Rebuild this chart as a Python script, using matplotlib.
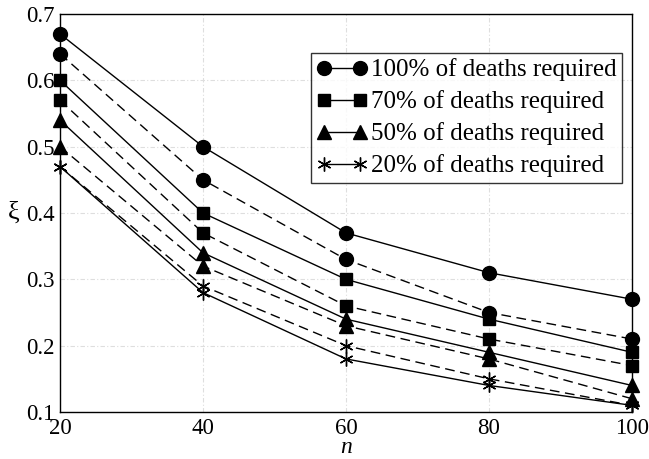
import matplotlib
matplotlib.use("Agg")
import matplotlib.pyplot as plt

plt.rcParams['font.family'] = ['Liberation Serif', 'DejaVu Serif']

n = [20, 40, 60, 80, 100]

labels = ["100% of deaths required", "70% of deaths required",
          "50% of deaths required", "20% of deaths required"]

# solid curves
xi_100 = [0.67, 0.50, 0.37, 0.31, 0.27]
xi_70 = [0.60, 0.40, 0.30, 0.24, 0.19]
xi_50 = [0.54, 0.34, 0.24, 0.19, 0.14]
xi_20 = [0.47, 0.28, 0.18, 0.14, 0.11]

# dashed curves
xi_100_d = [0.64, 0.45, 0.33, 0.25, 0.21]
xi_70_d = [0.57, 0.37, 0.26, 0.21, 0.17]
xi_50_d = [0.50, 0.32, 0.23, 0.18, 0.12]
xi_20_d = [0.47, 0.29, 0.20, 0.15, 0.11]

xticks = [20, 40, 60, 80, 100]
yticks = [0.1, 0.2, 0.3, 0.4, 0.5, 0.6, 0.7]

markers = ['o', 's', '^', (6, 2, 0)]
sizes = [10, 9, 10, 10]

fig = plt.figure(figsize=(6.49, 4.59), dpi=100)
ax = fig.add_axes([60 / 649, 1 - 412 / 459, 572 / 649, 398 / 459])

solid = [xi_100, xi_70, xi_50, xi_20]
dashed = [xi_100_d, xi_70_d, xi_50_d, xi_20_d]

handles = []
for ys, m, s, lab in zip(solid, markers, sizes, labels):
    h, = ax.plot(n, ys, color='black', lw=1.0, marker=m, markersize=s,
                 markerfacecolor='black', markeredgecolor='black',
                 markeredgewidth=1.0, label=lab, clip_on=False, zorder=3)
    handles.append(h)
for ys, m, s in zip(dashed, markers, sizes):
    ax.plot(n, ys, color='black', lw=1.0, dashes=(7, 4), marker=m,
            markersize=s, markerfacecolor='black', markeredgecolor='black',
            markeredgewidth=1.0, clip_on=False, zorder=3)

ax.set_xlim(20, 100)
ax.set_ylim(0.1, 0.7)
ax.set_xticks(xticks)
ax.set_yticks(yticks)
ax.set_xticklabels([str(v) for v in xticks])
ax.set_yticklabels([f"{v:g}" for v in yticks])
ax.tick_params(direction='in', length=0, labelsize=16.5)
ax.tick_params(axis='y', pad=4)
ax.tick_params(axis='x', pad=4)
ax.grid(True, color='#dedede', linestyle=(0, (4, 2, 1, 2)), linewidth=0.8)
for sp in ax.spines.values():
    sp.set_linewidth(1.0)

ax.set_xlabel('n', fontsize=17, style='italic', va='bottom')
ax.xaxis.set_label_coords(0.5, -0.1165)
ax.set_ylabel('ξ', fontsize=19, rotation=0, va='center', ha='center')
ax.yaxis.set_label_coords(-0.08, 0.5)

leg = ax.legend(handles=handles, loc='upper right',
                bbox_to_anchor=(0.9825, 0.902), numpoints=2, fontsize=18,
                frameon=True, fancybox=False, edgecolor='black',
                handlelength=2.05, handletextpad=0.12, borderpad=0.22,
                labelspacing=0.36, borderaxespad=0.0)
leg.get_frame().set_linewidth(1.0)

fig.savefig('out.png', dpi=100)
